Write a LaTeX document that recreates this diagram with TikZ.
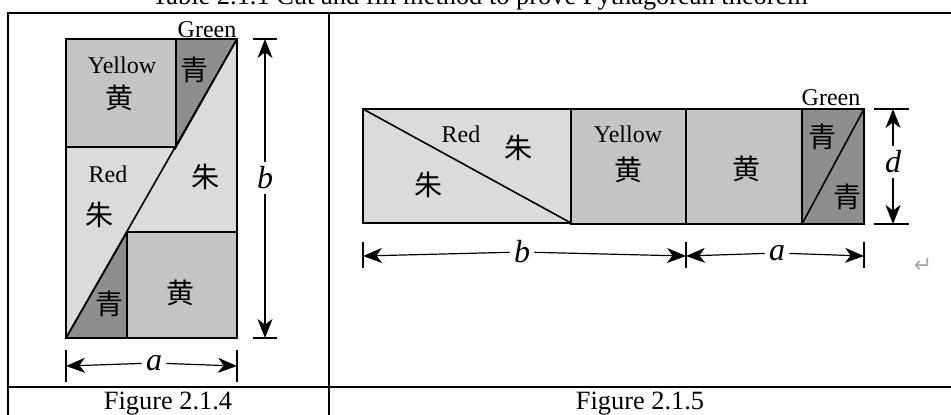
\documentclass[tikz,border=0pt]{standalone}
\usepackage{fontspec}
\setmainfont{Liberation Serif}
\newfontfamily\cjk{Noto Sans CJK SC}
\newfontfamily\dejavu{DejaVu Sans}
\usepackage{xcolor}
\usepackage{tikz}
\usetikzlibrary{arrows.meta}
\usetikzlibrary{positioning}

\definecolor{redgray}{HTML}{DBDBDB}
\definecolor{yellowgray}{HTML}{C4C4C4}
\definecolor{greengray}{HTML}{8E8E8E}

\begin{document}
\begin{tikzpicture} [
            x=0.5pt, y=-0.5pt,
            % ----- Style definitions ----- %
            piece/.style = {
                    draw,
                line width = 0.8pt,
                line join = miter
            },
            redpiece/.style = {piece, fill = redgray},
            yellowpiece/.style = {piece, fill = yellowgray},
            greenpiece/.style = {piece, fill = greengray},
            tableline/.style = {line width = 0.85pt},
            tick/.style = {line width = 0.6pt},
            dimarrow/.style = {
                    -{Stealth[length=9.5pt, width=7.5pt, inset=2.8pt]},
                line width = 0.6pt
            },
            engtext/.style = {font=\fontsize{12}{12}\selectfont, inner sep=0pt},
            hanzi/.style = {font=\cjk\fontsize{14}{14}\selectfont, inner sep=0pt},
            dimlabel/.style = {font=\itshape\fontsize{16}{16}\selectfont, inner sep=2pt},
            caption/.style = {font=\fontsize{13.2}{13.2}\selectfont, inner sep=0pt, anchor=base}
    ]
    \useasboundingbox (0,0) rectangle (951,414);

            % ----- Table frame ----- %
        \node [caption] (title) at (480,4) {Table 2.1.1 Cut and fill method to prove Pythagorean theorem};
        \draw [tableline] (8,430) -- (8,13) -- (960,13);
        \draw [tableline] (329,13) -- (329,430);
        \draw [tableline] (8,387) -- (960,387);
        \node [caption] (capleft) at (168,409) {Figure 2.1.4};
        \node [caption] (capright) at (640,409) {Figure 2.1.5};

            % ----- Figure 2.1.4 ----- %
        \draw [redpiece] (66,39) rectangle (237,338);
        \draw [yellowpiece] (66,39) rectangle (176,147);
        \draw [yellowpiece] (127,232) rectangle (237,338);
        \draw [greenpiece] (176,39) -- (237,39) -- (176,147) -- cycle;
        \draw [greenpiece] (66,338) -- (127,232) -- (127,338) -- cycle;
        \draw [piece] (237,39) -- (66,338);
        \draw [piece] (66,39) rectangle (237,338);

        \node [engtext, anchor=base] (greenA) at (207,37) {Green};
        \node [engtext, anchor=base] (yellowA) at (122,73) {Yellow};
        \node [hanzi] (huangA) at (119,98) {黄};
        \node [hanzi] (qingA) at (194,70) {青};
        \node [engtext, anchor=base] (redA) at (108,182) {Red};
        \node [hanzi] (zhuA) at (205,177) {朱};
        \node [hanzi] (zhuB) at (99,215) {朱};
        \node [hanzi] (qingB) at (109,304) {青};
        \node [hanzi] (huangB) at (180,293) {黄};

        % b (vertical)
        \coordinate (btop) at (265,39);
        \coordinate (bbot) at (265,338);
        \draw [tick] (253,39) -- (277,39);
        \draw [tick] (253,338) -- (277,338);
        \node [dimlabel] (bA) at (265,178) {b};
        \draw [dimarrow] (bA) -- (btop);
        \draw [dimarrow] (bA) -- (bbot);

        % a (horizontal)
        \coordinate (aleft) at (66,366);
        \coordinate (aright) at (237,366);
        \draw [tick] (66,350) -- (66,382);
        \draw [tick] (237,350) -- (237,382);
        \node [dimlabel] (aA) at (154,363) {a};
        \draw [dimarrow] (aA) -- (aleft);
        \draw [dimarrow] (aA) -- (aright);

            % ----- Figure 2.1.5 ----- %
        \draw [redpiece] (363,109) rectangle (571,223);
        \draw [piece] (363,109) -- (571,223);
        \draw [yellowpiece] (571,109) rectangle (686,224);
        \draw [yellowpiece] (686,109) rectangle (802,224);
        \draw [greenpiece] (802,109) rectangle (864,224);
        \draw [piece] (802,224) -- (864,109);

        \node [engtext, anchor=base] (redC) at (461,142) {Red};
        \node [hanzi] (zhuC) at (518,148) {朱};
        \node [hanzi] (zhuD) at (428,185) {朱};
        \node [engtext, anchor=base] (yellowC) at (628,142) {Yellow};
        \node [hanzi] (huangC) at (628,170) {黄};
        \node [hanzi] (huangD) at (746,169) {黄};
        \node [engtext, anchor=base] (greenC) at (831,105) {Green};
        \node [hanzi] (qingC) at (822,137) {青};
        \node [hanzi] (qingD) at (847,197) {青};

        % d (vertical)
        \coordinate (dtop) at (893,109);
        \coordinate (dbot) at (893,224);
        \draw [tick] (874,109) -- (909,109);
        \draw [tick] (874,224) -- (909,224);
        \node [dimlabel] (dC) at (893,162) {d};
        \draw [dimarrow] (dC) -- (dtop);
        \draw [dimarrow] (dC) -- (dbot);

        % b and a (horizontal)
        \coordinate (bleft) at (363,256);
        \coordinate (bright) at (686,256);
        \coordinate (arightC) at (864,256);
        \draw [tick] (363,242) -- (363,268);
        \draw [tick] (686,242) -- (686,268);
        \draw [tick] (864,242) -- (864,268);
        \node [dimlabel] (bC) at (522,252) {b};
        \draw [dimarrow] (bC) -- (bleft);
        \draw [dimarrow] (bC) -- (bright);
        \node [dimlabel] (aC) at (777,253) {a};
        \draw [dimarrow] (aC) -- (bright);
        \draw [dimarrow] (aC) -- (arightC);

        \node [font=\dejavu\fontsize{11}{11}\selectfont, text=gray!70, inner sep=0pt] (ret) at (923,266) {↵};
\end{tikzpicture}
\end{document}
